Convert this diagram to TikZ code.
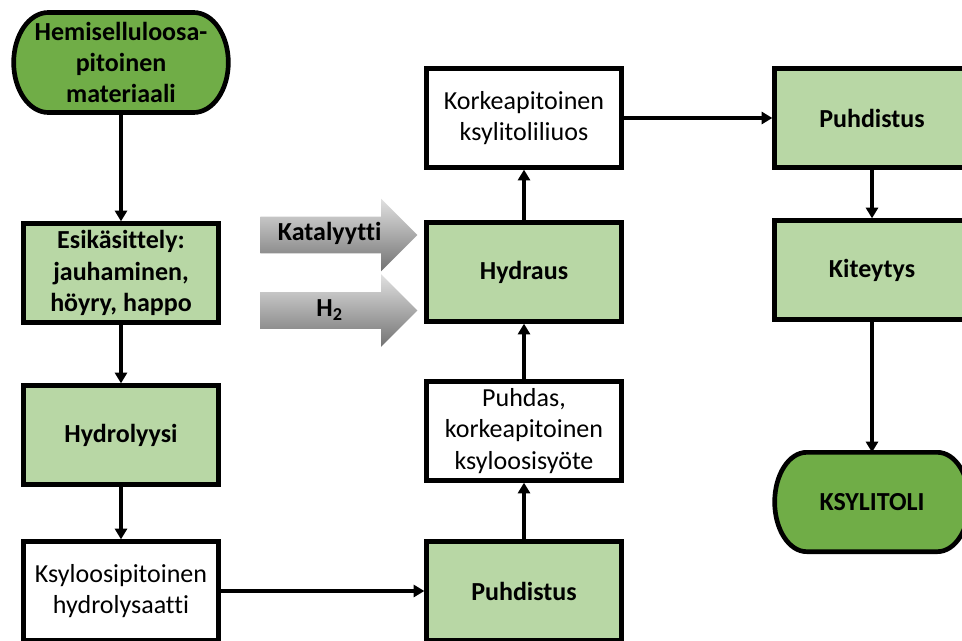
\documentclass[tikz,border=0pt]{standalone}
\usepackage{fontspec}
\setmainfont{Carlito}[Ligatures=NoCommon]
\usetikzlibrary{arrows.meta,shapes.arrows,backgrounds}
\definecolor{boxgreen}{HTML}{B8D7A5}
\definecolor{termgreen}{HTML}{70AD47}
\newcommand{\flowfont}{\fontsize{19.5pt}{23.4pt}\selectfont}
\tikzset{
  procbox/.style={draw=black,line width=3.5pt,fill=boxgreen,minimum width=146pt,minimum height=74pt,inner sep=2pt,align=center,font=\flowfont\bfseries},
  databox/.style={draw=black,line width=3.5pt,fill=white,minimum width=146pt,minimum height=74pt,inner sep=2pt,align=center,font=\flowfont},
  termnode/.style={inner sep=0pt,outer sep=0pt,align=center,font=\flowfont\bfseries},
  termline/.style={draw=black,line width=3.5pt,fill=termgreen},
  feedarrow/.style={single arrow,draw=none,single arrow head extend=13.5pt,minimum height=117.75pt,text height=13pt,text depth=4pt,inner ysep=5pt,top color=black!12,bottom color=black!55,font=\flowfont\bfseries},
  flow/.style={line width=2.75pt,-{Triangle[length=8pt,width=9pt]}}
}
\begin{document}
\begin{tikzpicture}[x=0.75pt,y=-0.75pt]
\useasboundingbox (0,0) rectangle (962,641);

% left column
\node[termnode,minimum width=161pt,minimum height=75pt] (hemi) at (121,62.5) {Hemiselluloosa-\\pitoinen\\materiaali};
\node[procbox] (esik) at (121,273) {Esikäsittely:\\jauhaminen,\\höyry, happo};
\node[procbox] (hydrol) at (121,435) {Hydrolyysi};
\node[databox] (ksylhyd) at (121,591) {Ksyloosipitoinen\\hydrolysaatti};

% middle column
\node[procbox] (puhd1) at (524,591) {Puhdistus};
\node[databox] (puhdas) at (524,431) {Puhdas,\\korkeapitoinen\\ksyloosisyöte};
\node[procbox] (hydraus) at (524,272) {Hydraus};
\node[databox] (korkea) at (524,118) {Korkeapitoinen\\ksylitoliliuos};

% right column
\node[procbox] (puhd2) at (872,118) {Puhdistus};
\node[procbox] (kitey) at (872,270) {Kiteytys};
\node[termnode,minimum width=146pt,minimum height=74.5pt] (ksylitoli) at (872,502) {KSYLITOLI};

% feeds into hydraus
\node[feedarrow,anchor=tail] (katal) at (260,235) {Katalyytti};
\node[feedarrow,anchor=tail] (vety) at (260,310.5) {H\textsubscript{2}};

\begin{scope}[on background layer]
\draw[termline] ([xshift=26pt]hemi.north west) -- ([xshift=-26pt]hemi.north east) arc[start angle=90,end angle=-90,x radius=26pt,y radius=37.5pt] -- ([xshift=26pt]hemi.south west) arc[start angle=270,end angle=90,x radius=26pt,y radius=37.5pt] -- cycle;
\draw[termline] ([xshift=24pt]ksylitoli.north west) -- ([xshift=-24pt]ksylitoli.north east) arc[start angle=90,end angle=-90,x radius=24pt,y radius=37.25pt] -- ([xshift=24pt]ksylitoli.south west) arc[start angle=270,end angle=90,x radius=24pt,y radius=37.25pt] -- cycle;
\end{scope}

\draw[flow] (hemi) -- (esik);
\draw[flow] (esik) -- (hydrol);
\draw[flow] (hydrol) -- (ksylhyd);
\draw[flow] (ksylhyd) -- (puhd1);
\draw[flow] (puhd1) -- (puhdas);
\draw[flow] (puhdas) -- (hydraus);
\draw[flow] (hydraus) -- (korkea);
\draw[flow] (korkea) -- (puhd2);
\draw[flow] (puhd2) -- (kitey);
\draw[flow] (kitey) -- (ksylitoli);
\end{tikzpicture}
\end{document}
